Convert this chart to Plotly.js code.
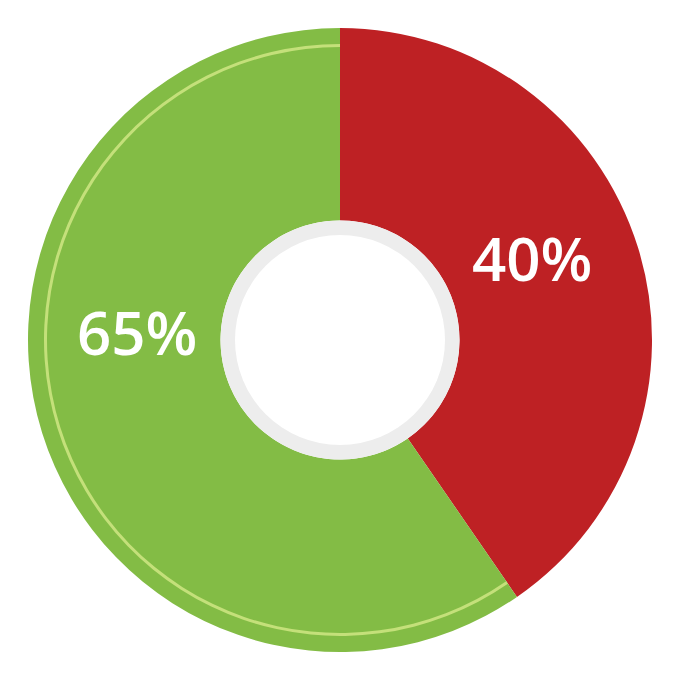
<!DOCTYPE html>
<html>
<head>
<meta charset="utf-8">
<script src="https://cdn.plot.ly/plotly-3.0.1.min.js"></script>
<style>html,body{margin:0;padding:0;background:#fff;}#chart{width:700px;height:700px;}</style>
</head>
<body>
<div id="chart"></div>
<script>
// Data
const categories = ['Red', 'Green'];
const sliceValues = [40.4, 59.6];
const sliceLabels = ['40%', '65%'];
const sliceColors = ['#be2124', '#83bc45'];

const cx = 340, cy = 340, R = 312, Rh = 119.5, Rring = 296, W = 700;
function dom(r) {
  return { x: [(cx - r) / W, (cx + r) / W], y: [(W - cy - r) / W, (W - cy + r) / W] };
}

const mainPie = {
  type: 'pie',
  labels: categories,
  values: sliceValues,
  sort: false,
  direction: 'clockwise',
  rotation: 0,
  hole: Rh / R,
  domain: dom(R),
  marker: { colors: sliceColors, line: { width: 0 } },
  textinfo: 'none',
  hoverinfo: 'none',
  showlegend: false
};

const ringPie = {
  type: 'pie',
  labels: categories,
  values: sliceValues,
  sort: false,
  direction: 'clockwise',
  rotation: 0,
  hole: 293 / Rring,
  domain: dom(Rring),
  marker: { colors: ['rgba(0,0,0,0)', '#c4e07a'], line: { width: 0 } },
  textinfo: 'none',
  hoverinfo: 'none',
  showlegend: false
};

const labelPos = [[532, 258], [137, 332]];
const annotations = sliceLabels.map((t, i) => ({
  text: t,
  x: labelPos[i][0] / W,
  y: 1 - labelPos[i][1] / W,
  xref: 'paper', yref: 'paper',
  xanchor: 'center', yanchor: 'middle',
  showarrow: false,
  font: { family: 'Open Sans', size: 60, weight: 600, color: '#ffffff' }
}));

const layout = {
  width: 700, height: 700,
  margin: { l: 0, r: 0, t: 0, b: 0 },
  paper_bgcolor: '#ffffff',
  plot_bgcolor: '#ffffff',
  showlegend: false,
  annotations: annotations,
  shapes: [
    { type: 'circle', xref: 'paper', yref: 'paper', layer: 'above',
      x0: (cx - Rh) / W, x1: (cx + Rh) / W, y0: (W - cy - Rh) / W, y1: (W - cy + Rh) / W,
      fillcolor: '#ededed', line: { width: 0 } },
    { type: 'circle', xref: 'paper', yref: 'paper', layer: 'above',
      x0: (cx - 105) / W, x1: (cx + 105) / W, y0: (W - cy - 105) / W, y1: (W - cy + 105) / W,
      fillcolor: '#ffffff', line: { width: 0 } }
  ]
};

Plotly.newPlot('chart', [mainPie, ringPie], layout, { displayModeBar: false, staticPlot: true });
</script>
</body>
</html>
